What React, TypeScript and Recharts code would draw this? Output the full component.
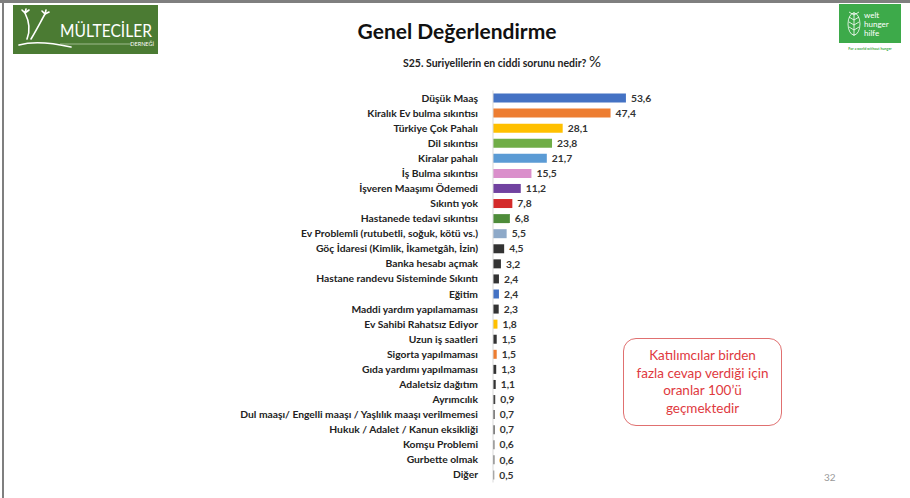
import { BarChart, Bar, XAxis, YAxis, Cell, LabelList } from "recharts";

const categories = [
  "Düşük Maaş",
  "Kiralık Ev bulma sıkıntısı",
  "Türkiye Çok Pahalı",
  "Dil sıkıntısı",
  "Kiralar pahalı",
  "İş Bulma sıkıntısı",
  "İşveren Maaşımı Ödemedi",
  "Sıkıntı yok",
  "Hastanede tedavi sıkıntısı",
  "Ev Problemli (rutubetli, soğuk, kötü vs.)",
  "Göç İdaresi (Kimlik, İkametgâh, İzin)",
  "Banka hesabı açmak",
  "Hastane randevu Sisteminde Sıkıntı",
  "Eğitim",
  "Maddi yardım yapılamaması",
  "Ev Sahibi Rahatsız Ediyor",
  "Uzun iş saatleri",
  "Sigorta yapılmaması",
  "Gıda yardımı yapılmaması",
  "Adaletsiz dağıtım",
  "Ayrımcılık",
  "Dul maaşı/ Engelli maaşı / Yaşlılık maaşı verilmemesi",
  "Hukuk / Adalet / Kanun eksikliği",
  "Komşu Problemi",
  "Gurbette olmak",
  "Diğer",
];

const values = [
  53.6, 47.4, 28.1, 23.8, 21.7, 15.5, 11.2, 7.8, 6.8, 5.5, 4.5, 3.2, 2.4, 2.4,
  2.3, 1.8, 1.5, 1.5, 1.3, 1.1, 0.9, 0.7, 0.7, 0.6, 0.6, 0.5,
];

const barColors = [
  "#4472C4", "#ED7D31", "#FFC000", "#70AD47", "#5B9BD5", "#DA8FCB", "#7142A0",
  "#D42A2A", "#4E8C3A", "#8EA9C8", "#333333", "#333333", "#333333", "#4472C4",
  "#333333", "#FFC000", "#333333", "#ED7D31", "#333333", "#333333", "#444444",
  "#555555", "#555555", "#666666", "#666666", "#777777",
];

const noteLines = [
  "Katılımcılar birden",
  "fazla cevap verdiği için",
  "oranlar 100’ü",
  "geçmektedir",
];

const rows = categories.map((name, i) => ({ name, value: values[i] }));

const FONT = "Lato, 'Open Sans', sans-serif";

function CategoryTick({ x, y, payload }: any) {
  return (
    <text
      x={x - 7}
      y={y}
      dy={3.5}
      textAnchor="end"
      fontSize={10.3}
      fontWeight="bold"
      fill="#222"
      fontFamily={FONT}
    >
      {payload.value}
    </text>
  );
}

function LeftLogo() {
  return (
    <svg width={170} height={50} style={{ position: "absolute", left: 13, top: 5, overflow: "visible" }}>
      <rect x={0} y={0} width={145} height={49} fill="#4B7B33" />
      <g stroke="#fff" strokeWidth={1.6} fill="none" strokeLinecap="round">
        <path d="M14 34 C 18 24, 16 16, 12 8" />
        <path d="M18 34 C 24 24, 28 16, 32 9" />
        <path d="M12 8 l -3 -3 M12 8 l 1 -4 M12 8 l 4 -3" />
        <path d="M32 9 l -3 -3 M32 9 l 1 -4 M32 9 l 4 -2" />
        <path d="M6 40 C 20 36, 40 38, 58 42" />
      </g>
      <text
        x={47}
        y={32}
        fill="#fff"
        fontSize={17}
        fontFamily={FONT}
        textLength={92}
        lengthAdjust="spacingAndGlyphs"
      >
        MÜLTECİLER
      </text>
      <line x1={47} y1={39} x2={118} y2={39} stroke="#d8e6cf" strokeWidth={0.6} />
      <text x={141} y={41} fill="#fff" fontSize={5.5} textAnchor="end" fontFamily={FONT}>
        DERNEĞİ
      </text>
    </svg>
  );
}

function RightLogo() {
  return (
    <svg width={66} height={50} style={{ position: "absolute", left: 838, top: 3 }}>
      <rect x={1} y={1} width={62} height={39} fill="#3DAA4A" />
      <g stroke="#fff" strokeWidth={0.8} fill="none">
        <line x1={16} y1={9} x2={16} y2={33} />
        <path d="M16 12 l -5 -3 M16 12 l 5 -3 M16 17 l -5 -3 M16 17 l 5 -3 M16 22 l -5 -3 M16 22 l 5 -3 M16 27 l -5 -3 M16 27 l 5 -3" />
        <ellipse cx={16} cy={21} rx={6} ry={11} />
      </g>
      <text x={26} y={15} fill="#fff" fontSize={8} fontFamily={FONT}>welt</text>
      <text x={26} y={24} fill="#fff" fontSize={8} fontFamily={FONT}>hunger</text>
      <text x={26} y={33} fill="#fff" fontSize={8} fontFamily={FONT}>hilfe</text>
      <text x={32} y={47} fill="#3DAA4A" fontSize={3.6} textAnchor="middle" fontFamily={FONT} fontWeight="bold">
        For a world without hunger
      </text>
    </svg>
  );
}

export default function App() {
  return (
    <div
      style={{
        position: "absolute",
        left: 0,
        top: 0,
        width: 910,
        height: 498,
        background: "#fff",
        overflow: "hidden",
        fontFamily: FONT,
      }}
    >
      <div style={{ position: "absolute", left: 0, top: 0, width: 910, height: 3, background: "#7f7f7f" }} />
      <div style={{ position: "absolute", left: 2, top: 0, width: 2, height: 498, background: "#7f7f7f" }} />
      <LeftLogo />
      <RightLogo />
      <div
        style={{
          position: "absolute",
          left: 0,
          width: 910,
          top: 18,
          textAlign: "center",
          fontSize: 21,
          fontWeight: "bold",
          color: "#111",
          paddingLeft: 2,
        }}
      >
        Genel Değerlendirme
      </div>
      <div
        style={{
          position: "absolute",
          left: 403,
          top: 52,
          fontSize: 10.5,
          fontWeight: "bold",
          color: "#222",
          whiteSpace: "nowrap",
        }}
      >
        S25. Suriyelilerin en ciddi sorunu nedir? <span style={{ fontSize: 15, fontWeight: "normal" }}>%</span>
      </div>

      <div style={{ position: "absolute", left: 0, top: 0 }}>
        <BarChart
          width={741}
          height={498}
          data={rows}
          layout="vertical"
          margin={{ top: 90.5, right: 0, bottom: 15.5, left: 0 }}
          barSize={9}
        >
          <XAxis type="number" domain={[0, 100]} hide />
          <YAxis
            type="category"
            dataKey="name"
            width={493}
            interval={0}
            tickLine={false}
            axisLine={{ stroke: "#d9d9d9" }}
            tick={<CategoryTick />}
          />
          <Bar dataKey="value" isAnimationActive={false}>
            {rows.map((r, i) => (
              <Cell key={r.name} fill={barColors[i]} />
            ))}
            <LabelList
              dataKey="value"
              position="right"
              offset={5}
              formatter={(v: any) => String(v).replace(".", ",")}
              style={{ fontSize: 10.3, fontWeight: "bold", fill: "#333", fontFamily: FONT }}
            />
          </Bar>
        </BarChart>
      </div>

      <div
        style={{
          position: "absolute",
          left: 623,
          top: 338,
          width: 157,
          height: 86,
          border: "1.5px solid #E07070",
          borderRadius: 13,
          display: "flex",
          flexDirection: "column",
          justifyContent: "center",
          alignItems: "center",
          color: "#E0393E",
          fontSize: 13.5,
          lineHeight: "17.5px",
        }}
      >
        {noteLines.map((l) => (
          <div key={l}>{l}</div>
        ))}
      </div>

      <div style={{ position: "absolute", left: 824, top: 471, fontSize: 10, color: "#999" }}>32</div>
    </div>
  );
}
